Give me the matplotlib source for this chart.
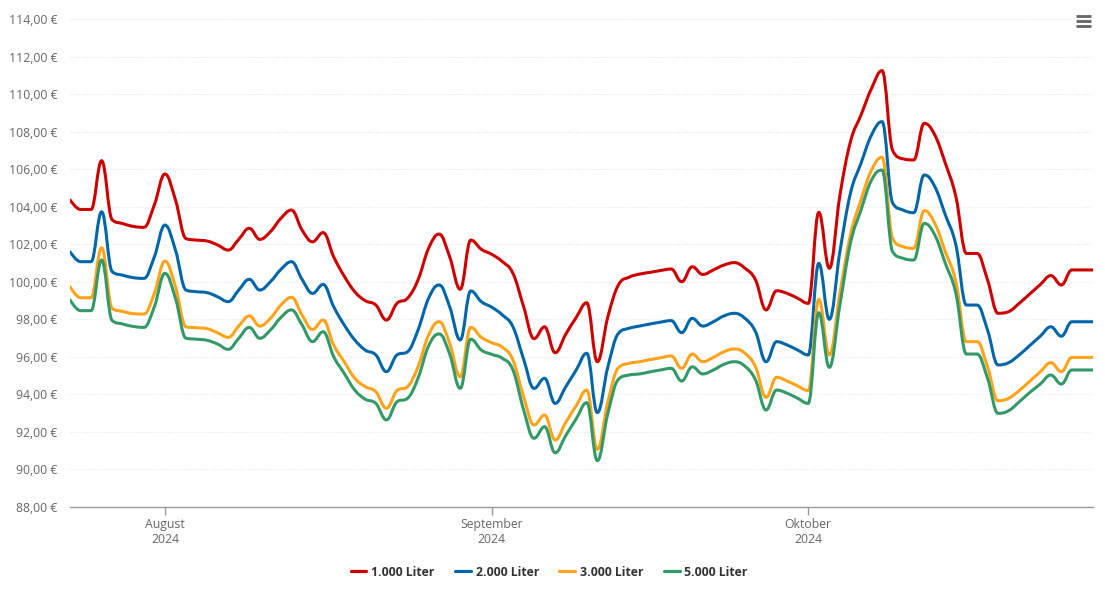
import matplotlib
matplotlib.use('Agg')
import matplotlib.pyplot as plt
import matplotlib.dates as mdates
from matplotlib.path import Path
from matplotlib.patches import PathPatch
from matplotlib.lines import Line2D
from matplotlib.ticker import FuncFormatter
import numpy as np
import pandas as pd

plt.rcParams['font.family'] = ['Open Sans', 'DejaVu Sans']

# daily prices, 23 Jul 2024 - 28 Oct 2024
dates = pd.date_range('2024-07-23', '2024-10-28', freq='D')

price_1000 = [
    104.36, 103.85, 103.85, 106.45, 103.3, 103.1, 102.95, 102.9, 104.1,
    105.74, 104.36, 102.3, 102.22, 102.17, 101.96, 101.69, 102.26, 102.85, 102.26,
    102.67, 103.38, 103.82, 102.76, 102.13, 102.62, 101.33, 100.3, 99.47, 98.99,
    98.76, 97.96, 98.85, 99.12, 100.1, 101.78, 102.54, 101.33, 99.6, 102.22, 101.73,
    101.46, 101.07, 100.45, 98.7, 96.97, 97.6, 96.22, 97.2, 98.1, 98.88,
    95.74, 98.14, 99.83, 100.24, 100.41, 100.5, 100.6, 100.68, 100.0, 100.8,
    100.39, 100.63, 100.89, 101.02, 100.72, 100.1, 98.5, 99.52, 99.38, 99.12,
    98.85, 103.7, 100.72, 104.6, 107.46, 108.88, 110.3, 111.25, 107.0, 106.55,
    106.49, 108.44, 107.82, 106.31, 104.53, 101.51, 101.51, 100.1, 98.32, 98.41,
    98.85, 99.35, 99.85, 100.33, 99.83, 100.63, 100.63, 100.63,
]
price_2000 = [
    101.6, 101.07, 101.07, 103.73, 100.54, 100.35, 100.22, 100.18, 101.33,
    103.02, 101.69, 99.56, 99.47, 99.42, 99.2, 98.94, 99.56, 100.13, 99.56,
    100.0, 100.66, 101.07, 100.13, 99.38, 99.86, 98.67, 97.7, 96.9, 96.36,
    96.1, 95.21, 96.1, 96.27, 97.43, 99.12, 99.83, 98.67, 96.9, 99.51, 98.94,
    98.64, 98.23, 97.6, 95.9, 94.32, 94.86, 93.52, 94.4, 95.3, 96.19,
    93.03, 95.47, 97.25, 97.52, 97.64, 97.75, 97.85, 97.93, 97.29, 98.05,
    97.64, 97.87, 98.18, 98.32, 98.05, 97.34, 95.74, 96.81, 96.63, 96.36,
    96.1, 100.98, 98.0, 101.6, 104.71, 106.31, 107.82, 108.53, 104.2, 103.82,
    103.68, 105.69, 105.07, 103.56, 101.96, 98.76, 98.76, 97.43, 95.57, 95.69,
    96.1, 96.6, 97.1, 97.6, 97.1, 97.87, 97.87, 97.87,
]
price_3000 = [
    99.74, 99.15, 99.15, 101.81, 98.58, 98.42, 98.3, 98.28, 99.38,
    101.1, 99.74, 97.6, 97.55, 97.5, 97.28, 97.04, 97.64, 98.18, 97.64,
    98.05, 98.76, 99.17, 98.23, 97.46, 97.96, 96.63, 95.74, 94.86, 94.41,
    94.14, 93.26, 94.2, 94.41, 95.47, 97.16, 97.87, 96.72, 94.94, 97.57, 97.04,
    96.75, 96.51, 95.83, 93.9, 92.37, 92.9, 91.57, 92.5, 93.4, 94.23,
    91.07, 93.6, 95.42, 95.65, 95.74, 95.85, 95.95, 96.05, 95.39, 96.15,
    95.74, 95.97, 96.27, 96.42, 96.19, 95.47, 93.84, 94.91, 94.71, 94.45,
    94.2, 99.06, 96.1, 99.38, 102.49, 104.36, 105.95, 106.63, 102.3, 101.87,
    101.78, 103.79, 103.11, 101.6, 100.0, 96.81, 96.81, 95.47, 93.66, 93.79,
    94.2, 94.7, 95.2, 95.69, 95.21, 95.97, 95.97, 95.97,
]
price_5000 = [
    99.03, 98.46, 98.46, 101.16, 97.93, 97.75, 97.62, 97.57, 98.67,
    100.45, 99.12, 96.99, 96.94, 96.88, 96.68, 96.4, 96.99, 97.57, 96.99,
    97.43, 98.1, 98.5, 97.7, 96.81, 97.34, 96.01, 95.12, 94.23, 93.74,
    93.52, 92.64, 93.6, 93.79, 94.86, 96.58, 97.22, 96.15, 94.32, 96.94, 96.36,
    96.13, 95.92, 95.3, 93.2, 91.66, 92.28, 90.89, 91.8, 92.7, 93.56,
    90.47, 92.99, 94.8, 95.03, 95.09, 95.2, 95.3, 95.39, 94.71, 95.47,
    95.09, 95.3, 95.6, 95.74, 95.5, 94.77, 93.17, 94.23, 94.06, 93.79,
    93.52, 98.35, 95.44, 98.76, 102.05, 103.82, 105.42, 105.95, 101.6, 101.25,
    101.16, 103.11, 102.49, 100.98, 99.38, 96.15, 96.15, 94.86, 92.99, 93.13,
    93.6, 94.1, 94.55, 95.03, 94.55, 95.3, 95.3, 95.3,
]

series_labels = ['1.000 Liter', '2.000 Liter', '3.000 Liter', '5.000 Liter']
series_values = [price_1000, price_2000, price_3000, price_5000]
series_colors = ['#cc0000', '#0066a8', '#ffa31a', '#339966']

month_ticks = ['2024-08-01', '2024-09-01', '2024-10-01']
month_labels = ['August\n2024', 'September\n2024', 'Oktober\n2024']


def spline_path(xs, ys, smoothing=1.5):
    # same control point rule as a Highcharts "spline" series
    n = len(xs)
    denom = smoothing + 1
    right = [None] * n
    left = [None] * n
    for i in range(1, n - 1):
        px, py = xs[i], ys[i]
        lx, ly = xs[i - 1], ys[i - 1]
        nx, ny = xs[i + 1], ys[i + 1]
        lcx = (smoothing * px + lx) / denom
        lcy = (smoothing * py + ly) / denom
        rcx = (smoothing * px + nx) / denom
        rcy = (smoothing * py + ny) / denom
        corr = (rcy - lcy) * (rcx - px) / (rcx - lcx) + py - rcy
        lcy += corr
        rcy += corr
        if lcy > ly and lcy > py:
            lcy = max(ly, py)
            rcy = 2 * py - lcy
        elif lcy < ly and lcy < py:
            lcy = min(ly, py)
            rcy = 2 * py - lcy
        if rcy > ny and rcy > py:
            rcy = max(ny, py)
            lcy = 2 * py - rcy
        elif rcy < ny and rcy < py:
            rcy = min(ny, py)
            lcy = 2 * py - rcy
        left[i] = (lcx, lcy)
        right[i] = (rcx, rcy)
    verts = [(xs[0], ys[0])]
    codes = [Path.MOVETO]
    for i in range(1, n):
        c1 = right[i - 1] if right[i - 1] is not None else (xs[i - 1], ys[i - 1])
        c2 = left[i] if left[i] is not None else (xs[i], ys[i])
        verts += [c1, c2, (xs[i], ys[i])]
        codes += [Path.CURVE4] * 3
    return Path(verts, codes)


fig = plt.figure(figsize=(11.05, 6.02), dpi=100, facecolor='white')
ax = fig.add_axes([70 / 1105, 95 / 602, 1023 / 1105, 488 / 602])

xnum = mdates.date2num(dates.to_pydatetime())
for label, vals, color in zip(series_labels, series_values, series_colors):
    path = spline_path(list(xnum), list(vals))
    ax.add_patch(PathPatch(path, facecolor='none', edgecolor=color, lw=2.2,
                           capstyle='round', joinstyle='round'))

ax.set_xlim(xnum[0], xnum[-1])
ax.set_ylim(88, 114)
ax.set_yticks(np.arange(88, 115, 2))
ax.yaxis.set_major_formatter(FuncFormatter(lambda v, p: f'{v:.2f}'.replace('.', ',') + ' €'))
ax.grid(axis='y', color='#e6e6e6', lw=0.8, ls=(0, (1, 1.5)))
ax.set_axisbelow(True)

ax.set_xticks(mdates.date2num(pd.to_datetime(month_ticks).to_pydatetime()))
ax.set_xticklabels(month_labels, linespacing=1.15)

for s in ['top', 'right', 'left']:
    ax.spines[s].set_visible(False)
ax.spines['bottom'].set_color('#999999')
ax.spines['bottom'].set_linewidth(1)
ax.tick_params(axis='x', colors='#999999', length=6, width=1, labelcolor='#666666',
               labelsize=8.8, pad=2)
ax.tick_params(axis='y', length=0, labelcolor='#666666', labelsize=8.8, pad=9)

handles = [Line2D([0], [0], color=c, lw=2.3, solid_capstyle='round') for c in series_colors]
leg = fig.legend(handles, series_labels, loc='center', bbox_to_anchor=(0.497, 1 - 572 / 602),
                 ncol=4, frameon=False, handlelength=1.3, handletextpad=0.4,
                 columnspacing=1.65, prop={'size': 8.8, 'weight': 'bold'})
for t in leg.get_texts():
    t.set_color('#333333')

# export menu icon (top right)
for yy in [16, 21, 26]:
    fig.add_artist(Line2D([1076 / 1105, 1091 / 1105], [1 - yy / 602, 1 - yy / 602],
                          color='#666666', lw=2.0, solid_capstyle='butt'))

fig.savefig('out.png', dpi=100, facecolor='white')
